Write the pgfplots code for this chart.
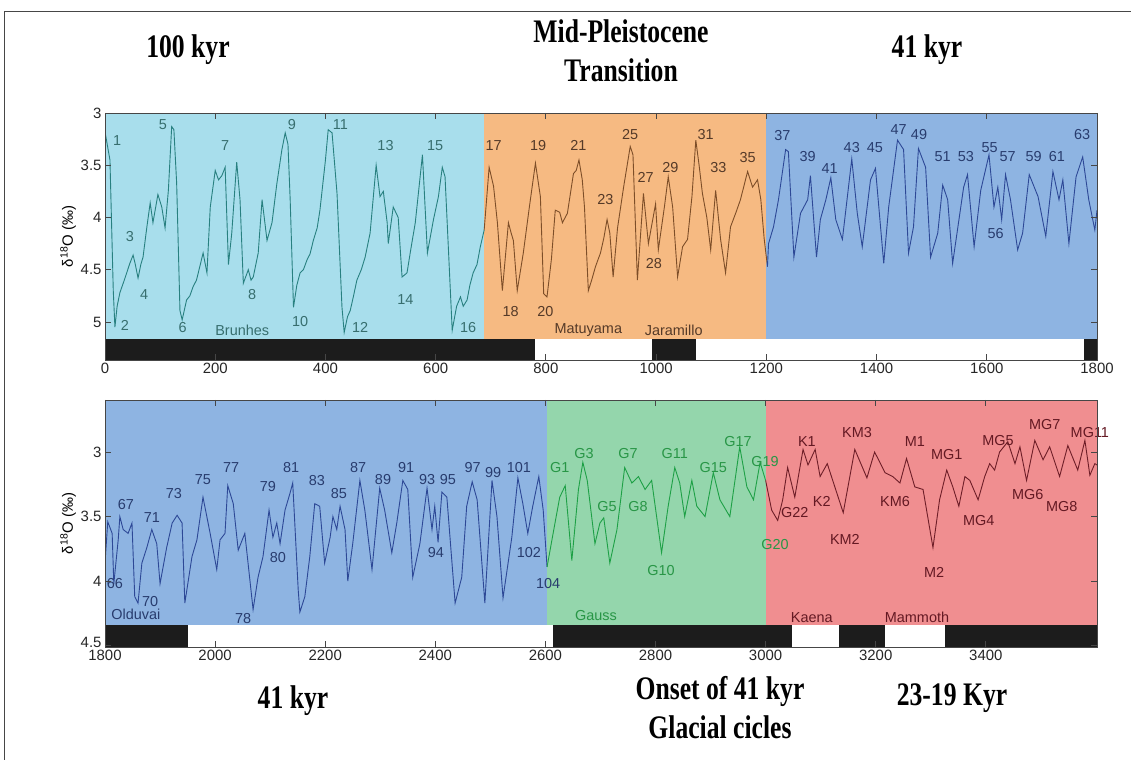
\documentclass[border=0pt]{standalone}
\usepackage{fontspec}
\setmainfont{Liberation Sans}
\newfontfamily\titlefont[FakeStretch=0.78]{Liberation Serif}
\usepackage{pgfplots}
\pgfplotsset{compat=1.18}

\definecolor{bgcyan}{RGB}{168,222,236}
\definecolor{bgorange}{RGB}{246,186,130}
\definecolor{bgblue}{RGB}{142,180,226}
\definecolor{bggreen}{RGB}{148,214,172}
\definecolor{bgred}{RGB}{240,142,144}
\definecolor{lcyan}{RGB}{40,128,128}
\definecolor{lbrown}{RGB}{125,78,40}
\definecolor{lblue}{RGB}{45,72,150}
\definecolor{lgreen}{RGB}{30,160,70}
\definecolor{lred}{RGB}{110,30,40}
\definecolor{tcyan}{RGB}{55,110,110}
\definecolor{tbrown}{RGB}{85,58,40}
\definecolor{tblue}{RGB}{40,60,110}
\definecolor{tgreen}{RGB}{40,150,70}
\definecolor{tred}{RGB}{100,25,35}
\definecolor{barblk}{RGB}{28,28,28}
\definecolor{framec}{RGB}{70,70,70}

\tikzset{lbl/.style={font=\fontsize{14.5}{16}\selectfont, inner sep=0pt},
  ttl/.style={align=center, font=\titlefont\bfseries\fontsize{33}{39}\selectfont}}
\pgfplotsset{
  panel/.style={
    scale only axis, width=992bp, height=247bp,
    y dir=reverse, axis on top, clip mode=individual,
    axis line style={framec, line width=0.8bp},
    tick style={framec, line width=0.8bp},
    tick align=inside, major tick length=6bp,
    every tick label/.append style={font=\fontsize{15}{17}\selectfont, text=black!85},
    /pgf/number format/assume math mode=true,
    /pgf/number format/1000 sep={},
    ylabel={δ\textsuperscript{18}O (‰)},
    ylabel style={font=\fontsize{15}{17}\selectfont, yshift=-2bp},
    no markers,
  },
}

\begin{document}
\begin{tikzpicture}[x=1bp,y=1bp]
\path[use as bounding box] (0,0) rectangle (1131,760);
\draw[framec, line width=0.8bp] (4,0) -- (4,749) -- (1131,749);

% titles
\node[ttl] at (188,710) {100 kyr};
\node[ttl] at (621,709) {Mid-Pleistocene\\Transition};
\node[ttl] at (927,710) {41 kyr};
\node[ttl] at (293,59) {41 kyr};
\node[ttl] at (720,52) {Onset of 41 kyr\\Glacial cicles};
\node[ttl] at (952,62) {23-19 Kyr};

% ---------------- top panel: 0-1800 ka ----------------
\begin{axis}[panel, at={(105bp,400bp)}, anchor=south west,
  xmin=0, xmax=1800, ymin=3, ymax=5.364,
  xtick={0,200,...,1800}, ytick={3,3.5,4,4.5,5},
  yticklabels={3,3.5,4,4.5,5}]
% background regions
\addplot[fill=bgcyan, draw=none] coordinates {(0,3) (688,3) (688,5.163) (0,5.163)} -- cycle;
\addplot[fill=bgorange, draw=none] coordinates {(688,3) (1200,3) (1200,5.163) (688,5.163)} -- cycle;
\addplot[fill=bgblue, draw=none] coordinates {(1200,3) (1800,3) (1800,5.163) (1200,5.163)} -- cycle;
% polarity bar
\addplot[fill=barblk, draw=none] coordinates {(0,5.163) (781,5.163) (781,5.364) (0,5.364)} -- cycle;
\addplot[fill=barblk, draw=none] coordinates {(993,5.163) (1073,5.163) (1073,5.364) (993,5.364)} -- cycle;
\addplot[fill=barblk, draw=none] coordinates {(1776,5.163) (1800,5.163) (1800,5.364) (1776,5.364)} -- cycle;

\addplot[lcyan, line width=0.9bp] coordinates {
(0,3.18) (9,3.45) (15,4.7) (18,5.05) (22,4.85) (27,4.72) (35,4.6) (45,4.44) (51,4.36) (55,4.45) (60,4.58) (65,4.45) (69,4.38)
(76,4.09) (82,3.86) (87,4.05) (96,3.78) (103,3.9) (109,4.1) (115,3.74) (121,3.13) (125,3.16) (130,3.67)
(136,4.89) (140,4.98) (148,4.79) (154,4.75) (160,4.66) (166,4.6) (172,4.47) (178,4.34) (185,4.53) (191,3.9) (200,3.55)
(206,3.64) (212,3.6) (218,3.52) (224,4.45) (230,4.15) (239,3.47) (245,3.83) (251,4.63) (260,4.5)
(265,4.6) (269,4.57) (278,4.34) (285,3.83) (294,4.22) (303,4.05) (312,3.67) (321,3.35) (327,3.19) (332,3.3)
(336,3.83) (342,4.86) (348,4.65) (354,4.53) (360,4.5) (367,4.4) (372,4.35) (378,4.22) (385,4.1) (390,3.93) (400,3.45) (405,3.16)
(412,3.19) (421,3.77) (430,4.86) (434,5.1) (440,4.95) (445,4.89) (451,4.75) (457,4.6) (465,4.5) (472,4.38) (481,4.15)
(492,3.5) (499,3.8) (505,3.75) (512,4.05) (514,4.25) (523,3.9) (532,4.0) (539,4.57) (548,4.53)
(555,4.3) (563,4.05) (576,3.4) (585,4.34) (596,4.02) (605,3.8) (612,3.52) (617,3.61) (630,5.08)
(638,4.85) (645,4.76) (650,4.85) (657,4.79) (662,4.65) (668,4.53) (675,4.45) (681,4.28) (688,4.12)
};
\addplot[lbrown, line width=0.9bp] coordinates {
(688,4.12) (697,3.52) (705,3.7) (712,4.05) (721,4.7) (732,4.05) (737,4.15) (741,4.22) (748,4.7)
(759,4.34) (770,3.9) (781,3.48) (790,3.8) (796,4.73) (802,4.76) (810,4.4) (817,3.93) (825,3.95)
(830,4.05) (839,3.96) (850,3.58) (855,3.55) (860,3.45) (866,3.64) (870,3.9) (877,4.7) (883,4.6)
(890,4.47) (899,4.34) (905,4.2) (911,4.02) (916,4.15) (922,4.57) (930,4.1) (941,3.71) (953,3.32)
(958,3.4) (966,4.6) (977,3.77) (986,4.25) (999,3.87) (1004,4.31) (1015,3.9) (1022,3.61) (1030,3.9)
(1039,4.57) (1048,4.28) (1057,4.21) (1065,3.8) (1072,3.26) (1078,3.5) (1084,3.77) (1092,4.0)
(1099,4.31) (1108,3.74) (1117,4.21) (1126,4.53) (1135,4.09) (1145,3.95) (1153,3.83) (1166,3.56)
(1175,3.71) (1184,3.64) (1190,3.83) (1196,4.2) (1202,4.47)
};
\addplot[lblue, line width=0.9bp] coordinates {
(1202,4.47) (1204,4.25) (1213,4.09) (1222,3.83) (1235,3.35) (1240,3.37) (1250,4.38) (1262,3.96)
(1275,3.83) (1280,3.6) (1291,4.38) (1298,4.02) (1308,3.83) (1317,3.62) (1326,4.02) (1338,4.21)
(1355,3.44) (1365,3.96) (1374,4.28) (1389,3.64) (1398,3.53) (1413,4.44) (1422,3.9) (1438,3.26)
(1449,3.35) (1458,4.34) (1467,4.09) (1476,3.34) (1489,3.52) (1498,4.38) (1511,4.15) (1520,3.69)
(1529,3.83) (1538,4.44) (1558,3.71) (1565,3.59) (1577,4.28) (1589,3.74) (1604,3.4) (1613,3.9)
(1620,3.71) (1627,4.02) (1634,3.59) (1643,3.83) (1656,4.31) (1665,4.15) (1677,3.59) (1693,3.8)
(1707,4.18) (1720,3.56) (1731,3.83) (1738,3.64) (1749,4.25) (1762,3.61) (1774,3.42) (1785,3.83)
(1796,4.12) (1800,3.93)
};

% stage labels
\begin{scope}[every node/.style={lbl, text=tcyan}]
\node at (axis cs:22,3.26) {1};
\node at (axis cs:36,5.03) {2};
\node at (axis cs:45,4.18) {3};
\node at (axis cs:71,4.74) {4};
\node at (axis cs:105,3.11) {5};
\node at (axis cs:141,5.05) {6};
\node at (axis cs:218,3.31) {7};
\node at (axis cs:267,4.74) {8};
\node at (axis cs:339,3.11) {9};
\node at (axis cs:354,5.0) {10};
\node at (axis cs:427,3.11) {11};
\node at (axis cs:463,5.05) {12};
\node at (axis cs:509,3.31) {13};
\node at (axis cs:545,4.79) {14};
\node at (axis cs:599,3.31) {15};
\node at (axis cs:659,5.05) {16};
\node at (axis cs:249,5.08) {Brunhes};
\end{scope}
\begin{scope}[every node/.style={lbl, text=tbrown}]
\node at (axis cs:705,3.31) {17};
\node at (axis cs:736,4.9) {18};
\node at (axis cs:786,3.31) {19};
\node at (axis cs:799,4.9) {20};
\node at (axis cs:859,3.31) {21};
\node at (axis cs:908,3.83) {23};
\node at (axis cs:953,3.21) {25};
\node at (axis cs:981,3.62) {27};
\node at (axis cs:996,4.44) {28};
\node at (axis cs:1026,3.52) {29};
\node at (axis cs:1090,3.21) {31};
\node at (axis cs:1113,3.52) {33};
\node at (axis cs:1166,3.43) {35};
\node at (axis cs:877,5.08) {Matuyama};
\node at (axis cs:1032,5.08) {Jaramillo};
\end{scope}
\begin{scope}[every node/.style={lbl, text=tblue}]
\node at (axis cs:1229,3.22) {37};
\node at (axis cs:1275,3.42) {39};
\node at (axis cs:1315,3.53) {41};
\node at (axis cs:1355,3.33) {43};
\node at (axis cs:1397,3.33) {45};
\node at (axis cs:1440,3.16) {47};
\node at (axis cs:1477,3.21) {49};
\node at (axis cs:1520,3.42) {51};
\node at (axis cs:1562,3.42) {53};
\node at (axis cs:1605,3.33) {55};
\node at (axis cs:1616,4.15) {56};
\node at (axis cs:1638,3.42) {57};
\node at (axis cs:1685,3.42) {59};
\node at (axis cs:1727,3.42) {61};
\node at (axis cs:1773,3.21) {63};
\end{scope}
\end{axis}

% ---------------- bottom panel: 1800-3600 ka ----------------
\begin{axis}[panel, at={(105bp,113bp)}, anchor=south west,
  xmin=1800, xmax=3602, ymin=2.597, ymax=4.51,
  xtick={1800,2000,...,3400}, ytick={3,3.5,4,4.5},
  yticklabels={3,3.5,4,\raisebox{7bp}{4.5}}]
\addplot[fill=bgblue, draw=none] coordinates {(1800,2.597) (2603,2.597) (2603,4.341) (1800,4.341)} -- cycle;
\addplot[fill=bggreen, draw=none] coordinates {(2603,2.597) (3000,2.597) (3000,4.341) (2603,4.341)} -- cycle;
\addplot[fill=bgred, draw=none] coordinates {(3000,2.597) (3602,2.597) (3602,4.341) (3000,4.341)} -- cycle;
\addplot[fill=barblk, draw=none] coordinates {(1800,4.341) (1951,4.341) (1951,4.51) (1800,4.51)} -- cycle;
\addplot[fill=barblk, draw=none] coordinates {(2614,4.341) (3048,4.341) (3048,4.51) (2614,4.51)} -- cycle;
\addplot[fill=barblk, draw=none] coordinates {(3133,4.341) (3217,4.341) (3217,4.51) (3133,4.51)} -- cycle;
\addplot[fill=barblk, draw=none] coordinates {(3326,4.341) (3602,4.341) (3602,4.51) (3326,4.51)} -- cycle;

\addplot[lblue, line width=0.9bp] coordinates {
(1800,3.86) (1805,3.54) (1813,3.63) (1816,4.02) (1824,3.68) (1827,3.5) (1833,3.6) (1842,3.63)
(1849,3.55) (1854,4.12) (1860,4.17) (1867,3.86) (1876,3.74) (1885,3.6) (1894,3.71) (1900,4.02)
(1912,3.74) (1922,3.55) (1931,3.49) (1940,3.55) (1945,4.17) (1958,3.81) (1967,3.68) (1978,3.35)
(1991,3.63) (2003,3.91) (2009,3.68) (2018,3.63) (2023,3.26) (2033,3.4) (2042,3.76) (2054,3.63)
(2069,4.22) (2078,3.97) (2087,3.81) (2098,3.45) (2105,3.66) (2112,3.55) (2118,3.71) (2127,3.45)
(2136,3.32) (2141,3.24) (2151,4.07) (2154,4.24) (2163,4.12) (2172,3.81) (2181,3.4) (2190,3.42)
(2199,3.86) (2209,3.66) (2214,3.5) (2221,3.6) (2227,3.42) (2236,3.6) (2241,4.0) (2250,3.71)
(2263,3.22) (2272,3.45) (2285,3.91) (2299,3.28) (2308,3.45) (2321,3.78) (2330,3.55) (2341,3.22)
(2350,3.29) (2359,3.97) (2372,3.71) (2385,3.28) (2394,3.6) (2399,3.42) (2405,3.7) (2412,3.31)
(2421,3.35) (2436,4.17) (2448,3.97) (2457,3.42) (2467,3.23) (2476,3.37) (2490,4.17) (2503,3.22)
(2512,3.5) (2523,4.13) (2539,3.66) (2550,3.2) (2559,3.4) (2568,3.63) (2577,3.42) (2588,3.19)
(2596,3.45) (2603,3.89)
};
\addplot[lgreen, line width=0.9bp] coordinates {
(2603,3.89) (2614,3.63) (2626,3.35) (2636,3.26) (2648,3.84) (2660,3.29) (2668,3.08) (2676,3.22)
(2690,3.71) (2699,3.55) (2706,3.51) (2717,3.86) (2730,3.6) (2744,3.12) (2757,3.24) (2769,3.19)
(2781,3.29) (2793,3.22) (2811,3.78) (2823,3.42) (2835,3.12) (2844,3.24) (2853,3.5) (2866,3.22)
(2875,3.42) (2890,3.5) (2905,3.16) (2917,3.37) (2935,3.5) (2953,2.96) (2966,3.27) (2978,3.37)
(2990,3.08) (3000,3.22)
};
\addplot[lred, line width=0.9bp] coordinates {
(3000,3.22) (3011,3.45) (3022,3.53) (3031,3.37) (3040,3.12) (3053,3.35) (3068,2.98) (3077,3.1)
(3090,2.98) (3099,3.19) (3112,3.09) (3141,3.47) (3162,2.98) (3184,3.2) (3198,3.0) (3217,3.16)
(3231,3.19) (3244,3.24) (3256,3.05) (3271,3.27) (3286,3.29) (3304,3.74) (3316,3.37) (3329,3.14)
(3340,3.27) (3351,3.42) (3362,3.19) (3371,3.22) (3386,3.37) (3398,3.19) (3407,3.09) (3416,3.14)
(3425,3.0) (3440,2.92) (3453,3.09) (3462,2.96) (3474,3.22) (3489,2.91) (3504,3.06) (3516,2.96)
(3534,3.19) (3549,2.95) (3567,3.14) (3580,2.91) (3589,3.18) (3598,3.09) (3602,3.1)
};

\begin{scope}[every node/.style={lbl, text=tblue}]
\node at (axis cs:1818,4.02) {66};
\node at (axis cs:1838,3.41) {67};
\node at (axis cs:1882,4.16) {70};
\node at (axis cs:1885,3.51) {71};
\node at (axis cs:1925,3.32) {73};
\node at (axis cs:1978,3.21) {75};
\node at (axis cs:2029,3.12) {77};
\node at (axis cs:2051,4.29) {78};
\node at (axis cs:2096,3.27) {79};
\node at (axis cs:2114,3.82) {80};
\node at (axis cs:2138,3.12) {81};
\node at (axis cs:2185,3.22) {83};
\node at (axis cs:2225,3.32) {85};
\node at (axis cs:2260,3.12) {87};
\node at (axis cs:2305,3.21) {89};
\node at (axis cs:2347,3.12) {91};
\node at (axis cs:2385,3.21) {93};
\node at (axis cs:2401,3.78) {94};
\node at (axis cs:2423,3.21) {95};
\node at (axis cs:2468,3.12) {97};
\node at (axis cs:2505,3.16) {99};
\node at (axis cs:2552,3.12) {101};
\node at (axis cs:2570,3.78) {102};
\node at (axis cs:2605,4.02) {104};
\node at (axis cs:1856,4.26) {Olduvai};
\end{scope}
\begin{scope}[every node/.style={lbl, text=tgreen}]
\node at (axis cs:2626,3.12) {G1};
\node at (axis cs:2670,3.01) {G3};
\node at (axis cs:2712,3.42) {G5};
\node at (axis cs:2750,3.01) {G7};
\node at (axis cs:2768,3.42) {G8};
\node at (axis cs:2810,3.92) {G10};
\node at (axis cs:2835,3.01) {G11};
\node at (axis cs:2905,3.12) {G15};
\node at (axis cs:2950,2.92) {G17};
\node at (axis cs:2999,3.07) {G19};
\node at (axis cs:3017,3.72) {G20};
\node at (axis cs:2692,4.27) {Gauss};
\end{scope}
\begin{scope}[every node/.style={lbl, text=tred}]
\node at (axis cs:3053,3.47) {G22};
\node at (axis cs:3075,2.92) {K1};
\node at (axis cs:3102,3.38) {K2};
\node at (axis cs:3144,3.68) {KM2};
\node at (axis cs:3166,2.85) {KM3};
\node at (axis cs:3235,3.38) {KM6};
\node at (axis cs:3271,2.92) {M1};
\node at (axis cs:3306,3.93) {M2};
\node at (axis cs:3329,3.02) {MG1};
\node at (axis cs:3387,3.53) {MG4};
\node at (axis cs:3422,2.91) {MG5};
\node at (axis cs:3476,3.33) {MG6};
\node at (axis cs:3507,2.79) {MG7};
\node at (axis cs:3538,3.42) {MG8};
\node at (axis cs:3589,2.85) {MG11};
\node at (axis cs:3084,4.28) {Kaena};
\node at (axis cs:3275,4.28) {Mammoth};
\end{scope}
\end{axis}
\end{tikzpicture}
\end{document}
